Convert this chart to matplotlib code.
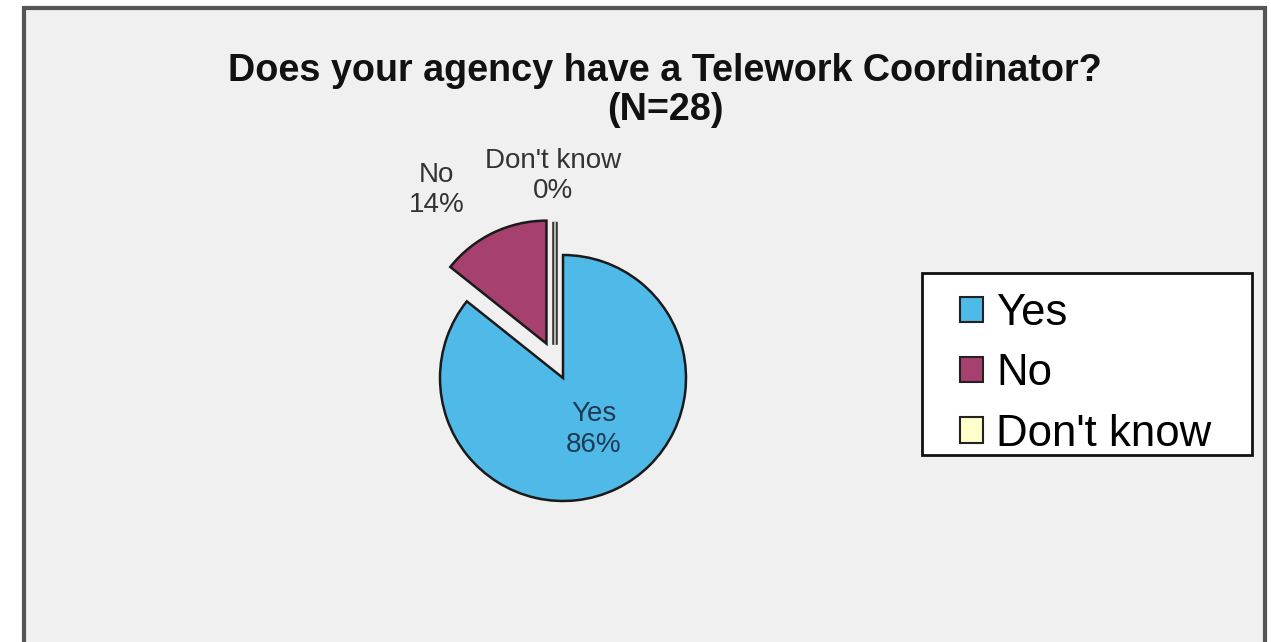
import matplotlib.pyplot as plt
import matplotlib.patheffects as pe
from matplotlib.patches import Rectangle, Patch

# Survey answers (N=28)
answers = ["Yes", "No", "Don't know"]
counts = [24, 4, 0]
colors = ["#4FB9E8", "#A6406E", "#FFFFCC"]
explode = [0.0, 0.31, 0.27]

total = sum(counts)
pcts = [round(100 * c / total) for c in counts]

plt.rcParams['font.family'] = ['Liberation Sans', 'DejaVu Sans']

W, H = 1271, 642
fig = plt.figure(figsize=(W / 100, H / 100), dpi=100, facecolor='white')

# grey chart area with dark frame (bottom edge runs off the image)
fig.patches.append(Rectangle((24 / W, -0.05), (1265 - 24) / W, 1.05 - 8 / H,
                             transform=fig.transFigure, facecolor='#F0F0F0',
                             edgecolor='#555555', lw=3, zorder=-2))

fig.text(665 / W, 1 - 120 / H, "Does your agency have a Telework Coordinator?\n(N=28)",
         ha='center', va='baseline', fontsize=27.2, fontweight='bold',
         linespacing=1.12, color='#111111')

# pie axes: centre at (563, 378) px, radius 123 px
r = 123
cx, cy = 563, 378
ax = fig.add_axes([(cx - 2.5 * r) / W, (H - cy - 2 * r) / H, 5 * r / W, 4 * r / H])
ax.set_zorder(2)
ax.set_axis_off()
wedges, _ = ax.pie(counts, colors=colors, explode=explode, startangle=90,
                   counterclock=False, radius=1,
                   wedgeprops=dict(edgecolor='#1a1a1a', linewidth=1.8))
ax.set_xlim(-2.5, 2.5)
ax.set_ylim(-2, 2)

# zero slice shows up as a thin double line
dk = wedges[2]
dk.set_center((dk.center[0] - 0.065, dk.center[1]))
dk.set_edgecolor('#F4F4E0')
dk.set_linewidth(1.0)
dk.set_path_effects([pe.Stroke(linewidth=4, foreground='#333333'), pe.Normal()])

label_xy = [(0.25, -0.42), (-1.03, 1.53), (-0.08, 1.64)]
label_colors = ['#1f3b52', '#333333', '#333333']
for name, p, (lx, ly), lc in zip(answers, pcts, label_xy, label_colors):
    ax.text(lx, ly, f"{name}\n{p}%", ha='center', va='center', fontsize=20,
            color=lc, linespacing=1.22)

# legend with a separate frame
fig.patches.append(Rectangle((922 / W, 1 - 455 / H), (1252 - 922) / W, (455 - 273) / H,
                             transform=fig.transFigure, facecolor='white',
                             edgecolor='#111111', lw=2, zorder=-1))
handles = [Patch(facecolor=c, edgecolor='#222222', lw=1.5) for c in colors]
fig.legend(handles, answers, loc='upper left', bbox_to_anchor=(960 / W, 1 - 293 / H),
           frameon=False, fontsize=31.5, handlelength=0.52, handleheight=0.52,
           handletextpad=0.3, labelspacing=0.44, borderpad=0, borderaxespad=0)

fig.savefig('out.png', dpi=100, facecolor='white')
